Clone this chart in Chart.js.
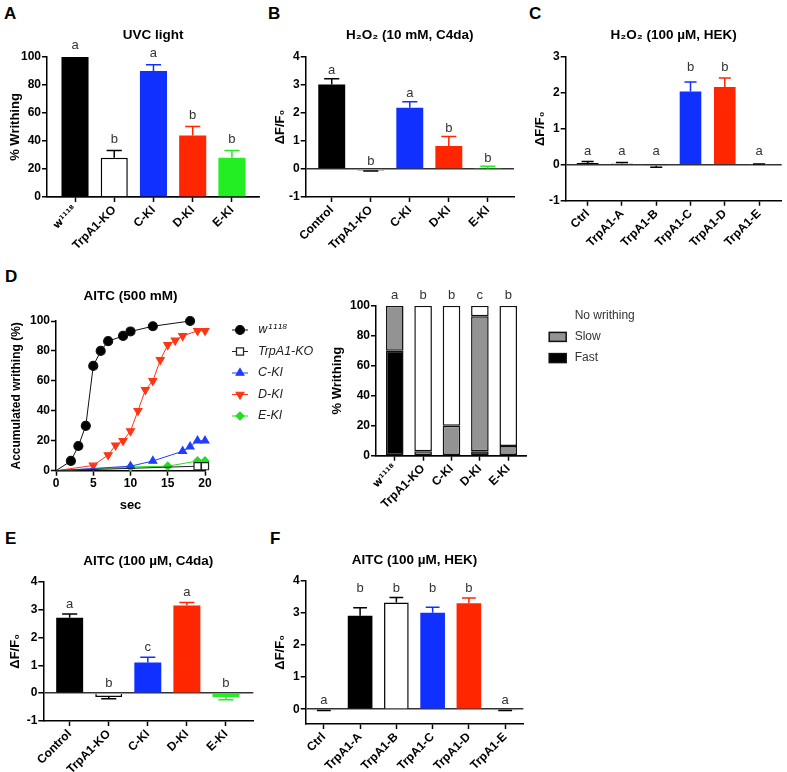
<!DOCTYPE html>
<html><head><meta charset="utf-8">
<script src="https://cdn.jsdelivr.net/npm/chart.js@4/dist/chart.umd.min.js"></script>
<style>
html,body{margin:0;padding:0;background:#fff;}
body{width:787px;height:772px;position:relative;overflow:hidden;font-family:'Liberation Sans',Arial,sans-serif;}
canvas{position:absolute;display:block;}
.lbl{position:absolute;font:bold 17px 'Liberation Sans',Arial,sans-serif;line-height:17px;color:#000;}
</style></head><body>
<div class="lbl" style="left:4px;top:5px">A</div>
<div class="lbl" style="left:268px;top:5px">B</div>
<div class="lbl" style="left:529px;top:5px">C</div>
<div class="lbl" style="left:5px;top:268px">D</div>
<div class="lbl" style="left:5px;top:530px">E</div>
<div class="lbl" style="left:270px;top:530px">F</div>
<canvas id="cA" width="265" height="265" style="left:0;top:0"></canvas>
<canvas id="cB" width="265" height="265" style="left:265px;top:0"></canvas>
<canvas id="cC" width="262" height="265" style="left:525px;top:0"></canvas>
<canvas id="cDl" width="325" height="258" style="left:0;top:262px"></canvas>
<canvas id="cDs" width="340" height="258" style="left:325px;top:262px"></canvas>
<canvas id="cE" width="265" height="252" style="left:0;top:520px"></canvas>
<canvas id="cF" width="265" height="252" style="left:265px;top:520px"></canvas>
<script>
// ---------- DATA ----------
// A: UVC light
const catsA = ['w\u00B9\u00B9\u00B9\u2078', 'TrpA1-KO', 'C-KI', 'D-KI', 'E-KI'];
const valsA = [100, 28, 90, 44, 28];
const errsA = [0, 5.3, 4.5, 6.4, 5.3];
const sigA = ['a', 'b', 'a', 'b', 'b'];
// B: H2O2 (10 mM, C4da)
const catsB = ['Control', 'TrpA1-KO', 'C-KI', 'D-KI', 'E-KI'];
const valsB = [3.02, -0.05, 2.19, 0.82, 0.02];
const errsB = [0.2, 0.02, 0.21, 0.34, 0.08];
const sigB = ['a', 'b', 'a', 'b', 'b'];
// C: H2O2 (100 uM, HEK)
const catsC = ['Ctrl', 'TrpA1-A', 'TrpA1-B', 'TrpA1-C', 'TrpA1-D', 'TrpA1-E'];
const valsC = [0.05, 0.03, -0.03, 2.03, 2.16, 0.01];
const errsC = [0.04, 0.03, 0.04, 0.27, 0.25, 0.01];
const sigC = ['a', 'a', 'a', 'b', 'b', 'a'];
// D (left): accumulated writhing vs time
const secW = [0, 2, 3, 4, 5, 6, 7, 9, 10, 13, 18];
const pctW = [0, 6.5, 16.5, 30, 70, 80, 86.5, 90, 93, 96.5, 100];
const secKO = [0, 19, 20];
const pctKO = [0, 3, 3];
const secCKI = [0, 10, 13, 17, 18, 19, 20];
const pctCKI = [0, 3, 6.5, 13, 16, 20, 20];
const secDKI = [0, 5, 7, 8, 9, 10, 11, 12, 13, 14, 15, 16, 17, 19, 20];
const pctDKI = [0, 3.5, 10.5, 17, 20, 26.5, 40, 54, 60, 74, 84, 87, 90, 93.5, 93.5];
const secEKI = [0, 10, 15, 19, 20];
const pctEKI = [0, 2.5, 3, 6.5, 6.5];
const seriesNamesD = ['w\u00B9\u00B9\u00B9\u2078', 'TrpA1-KO', 'C-KI', 'D-KI', 'E-KI'];
// D (right): stacked % writhing
const catsDs = ['w\u00B9\u00B9\u00B9\u2078', 'TrpA1-KO', 'C-KI', 'D-KI', 'E-KI'];
const fastDs = [70, 0, 0, 3, 0];
const slowDs = [30, 3, 20, 90, 6.5];
const noneDs = [0, 97, 80, 7, 93.5];
const sigDs = ['a', 'b', 'b', 'c', 'b'];
// E: AITC (100 uM, C4da)
const catsE = ['Control', 'TrpA1-KO', 'C-KI', 'D-KI', 'E-KI'];
const valsE = [2.71, -0.14, 1.1, 3.15, -0.14];
const errsE = [0.13, 0.06, 0.19, 0.1, 0.1];
const sigE = ['a', 'b', 'c', 'a', 'b'];
// F: AITC (100 uM, HEK)
const catsF = ['Ctrl', 'TrpA1-A', 'TrpA1-B', 'TrpA1-C', 'TrpA1-D', 'TrpA1-E'];
const valsF = [-0.03, 2.91, 3.32, 3.0, 3.3, -0.03];
const errsF = [0.01, 0.25, 0.16, 0.17, 0.16, 0.01];
const sigF = ['a', 'b', 'b', 'b', 'b', 'a'];

// ---------- STYLE ----------
const FONT = "'Liberation Sans', Arial, sans-serif";
const SUPFONT = "'DejaVu Sans', 'Liberation Sans', sans-serif";
const hasSup = s => /[\u00B9\u2070-\u209F]/.test(s || '');
Chart.defaults.font.family = FONT;
Chart.defaults.color = '#000';
const tickFont = {family: FONT, size: 12, weight: 'bold'};
const supTickFont = {family: SUPFONT, size: 10.5, weight: 'bold'};
const titleFont = {family: FONT, size: 13, weight: 'bold'};
const chartTitleFont = {family: FONT, size: 13.5, weight: 'bold'};
const BLACK = '#000000', WHITE = '#ffffff', BLUE = '#1030ff', RED = '#ff2600', GREEN = '#22ee22', GRAY = '#939393';

function errPlugin(vals, errs, colors) {
  return {
    id: 'errBars',
    afterDatasetsDraw(chart) {
      const ys = chart.scales.y, ctx = chart.ctx, bars = chart.getDatasetMeta(0).data;
      ctx.save();
      ctx.lineWidth = 1.5;
      bars.forEach((b, i) => {
        if (!errs[i]) return;
        const s = vals[i] < 0 ? -1 : 1;
        const y0 = ys.getPixelForValue(vals[i]);
        const y1 = ys.getPixelForValue(vals[i] + s * errs[i]);
        const half = b.width * 0.28;
        ctx.strokeStyle = colors[i];
        ctx.beginPath();
        ctx.moveTo(b.x, y0); ctx.lineTo(b.x, y1);
        ctx.moveTo(b.x - half, y1); ctx.lineTo(b.x + half, y1);
        ctx.stroke();
      });
      ctx.restore();
    }
  };
}

function letterPlugin(letters, topVals, gap, group) {
  return {
    id: 'sigLetters',
    afterDatasetsDraw(chart) {
      const ys = chart.scales.y, ctx = chart.ctx;
      const xs = chart.getDatasetMeta(0).data.map(b => b.x);
      const py = topVals.map(v => ys.getPixelForValue(v));
      ctx.save();
      ctx.font = '13px ' + FONT;
      ctx.fillStyle = '#333';
      ctx.textAlign = 'center';
      ctx.textBaseline = 'alphabetic';
      letters.forEach((L, i) => {
        let y = py[i];
        if (group) letters.forEach((M, j) => { if (M === L) y = Math.min(y, py[j]); });
        ctx.fillText(L, xs[i], y - gap);
      });
      ctx.restore();
    }
  };
}

function axisX(cats, min, max, h) {
  return {
    type: 'linear', min, max, offset: false,
    afterBuildTicks: s => { s.ticks = cats.map((c, i) => ({value: i})); },
    afterFit: s => { s.height = h; },
    ticks: {callback: v => cats[v], autoSkip: false, minRotation: 45, maxRotation: 45,
            font: c => (c.tick && hasSup(cats[c.tick.value])) ? supTickFont : tickFont, color: '#000', padding: 1},
    grid: {display: true, offset: false, drawOnChartArea: false, drawTicks: true, tickLength: 5, tickColor: '#000', tickWidth: 1.5},
    border: {display: true, color: '#000', width: 1.5}
  };
}

function axisY(min, max, step, w, title, titleCx) {
  return {
    min, max,
    afterBuildTicks: s => { s.ticks = s.ticks.filter(t => Math.abs(t.value / step - Math.round(t.value / step)) < 1e-6); },
    afterFit: s => { s.width = w; },
    ticks: {stepSize: step, font: tickFont, color: '#000', padding: 1},
    grid: {drawOnChartArea: true, color: c => (c.tick && c.tick.value === 0) ? '#333' : 'rgba(0,0,0,0)', lineWidth: 1.5,
           drawTicks: true, tickLength: 5, tickColor: '#000', tickWidth: 1.5},
    border: {display: true, color: '#000', width: 1.5},
    title: {display: true, text: title, font: titleFont, color: '#000', padding: {top: titleCx - 7.8, bottom: 0}}
  };
}

function titleOpt(text, centerY, areaTop) {
  const half = chartTitleFont.size * 0.6;
  return {display: true, text, fullSize: false, font: chartTitleFont, color: '#000',
          padding: {top: centerY - half, bottom: areaTop - centerY - half}};
}

function barPanel(id, o) {
  const el = document.getElementById(id);
  const W = el.width, H = el.height;
  const tops = o.vals.map((v, i) => v >= 0 ? v + o.errs[i] : 0);
  return new Chart(el, {
    type: 'bar',
    data: {datasets: [{
      data: o.vals.map((v, i) => ({x: i, y: v})),
      backgroundColor: o.fills, borderColor: o.lines,
      borderWidth: o.fills.map(f => f === WHITE ? 1.5 : 0),
      borderSkipped: 'start', categoryPercentage: 1, barPercentage: o.barPct
    }]},
    options: {
      responsive: false, animation: false, events: [],
      layout: {padding: {left: 0, top: 0, bottom: 0, right: W - o.area.right}},
      plugins: {legend: {display: false}, tooltip: {enabled: false}, title: titleOpt(o.title, o.titleY, o.area.top)},
      scales: {
        x: axisX(o.cats, o.xMin, o.xMax, H - o.area.bottom),
        y: axisY(o.yMin, o.yMax, o.step, o.area.left, o.yTitle, 15)
      }
    },
    plugins: [errPlugin(o.vals, o.errs, o.lines), letterPlugin(o.sig, tops, o.gap, o.group)]
  });
}

const dff = '\u0394F/F\u2080';

barPanel('cA', {cats: catsA, vals: valsA, errs: errsA, sig: sigA,
  fills: [BLACK, WHITE, BLUE, RED, GREEN], lines: [BLACK, BLACK, BLUE, RED, GREEN],
  title: 'UVC light', titleY: 35, yTitle: '% Writhing', yMin: 0, yMax: 100, step: 20,
  xMin: -0.714, xMax: 4.69, barPct: 0.69, area: {left: 47, right: 259, top: 57, bottom: 197}, gap: 7.7});

barPanel('cB', {cats: catsB, vals: valsB, errs: errsB, sig: sigB,
  fills: [BLACK, WHITE, BLUE, RED, GREEN], lines: [BLACK, BLACK, BLUE, RED, GREEN],
  title: 'H\u2082O\u2082 (10 mM, C4da)', titleY: 35, yTitle: dff, yMin: -1, yMax: 4, step: 1,
  xMin: -0.667, xMax: 4.67, barPct: 0.69, area: {left: 40.7, right: 249, top: 57, bottom: 197}, gap: 4.5});

barPanel('cC', {cats: catsC, vals: valsC, errs: errsC, sig: sigC,
  fills: [BLACK, WHITE, WHITE, BLUE, RED, WHITE], lines: [BLACK, BLACK, BLACK, BLUE, RED, BLACK],
  title: 'H\u2082O\u2082 (100 \u00B5M, HEK)', titleY: 35, yTitle: dff, yMin: -1, yMax: 3, step: 1,
  xMin: -0.64, xMax: 5.66, barPct: 0.63, area: {left: 40.7, right: 256.7, top: 56.7, bottom: 200.7}, gap: 6.5, group: true});

barPanel('cE', {cats: catsE, vals: valsE, errs: errsE, sig: sigE,
  fills: [BLACK, WHITE, BLUE, RED, GREEN], lines: [BLACK, BLACK, BLUE, RED, GREEN],
  title: 'AITC (100 \u00B5M, C4da)', titleY: 41.7, yTitle: dff, yMin: -1, yMax: 4, step: 1,
  xMin: -0.675, xMax: 4.7, barPct: 0.69, area: {left: 43.3, right: 253.3, top: 61.7, bottom: 201}, gap: 6.5});

barPanel('cF', {cats: catsF, vals: valsF, errs: errsF, sig: sigF,
  fills: [WHITE, BLACK, WHITE, BLUE, RED, WHITE], lines: [BLACK, BLACK, BLACK, BLUE, RED, BLACK],
  title: 'AITC (100 \u00B5M, HEK)', titleY: 40, yTitle: dff, yMin: -0.46, yMax: 4, step: 1,
  xMin: -0.5, xMax: 5.5, barPct: 0.68, area: {left: 40.7, right: 258.3, top: 60.7, bottom: 204}, gap: 5, group: true});

// ---------- D left: line chart ----------
const legendRadii = [4.5, 5, 4.5, 4.5, 4];
function lineDs(label, xs, ys, color, style, rot, r, fill) {
  return {
    label, data: xs.map((x, i) => ({x, y: ys[i]})),
    borderColor: color, backgroundColor: fill, borderWidth: 1, tension: 0,
    pointStyle: style, pointRotation: rot,
    pointRadius: c => c.dataIndex === 0 ? 0 : r,
    pointBackgroundColor: fill, pointBorderColor: color, pointBorderWidth: 1.2, clip: false
  };
}
const lineLegend = {
  id: 'lineLegend',
  afterDraw(chart) {
    const ctx = chart.ctx, a = chart.chartArea;
    const x0 = a.right + 35, y0 = a.top + 9, dy = 21.5;
    chart.data.datasets.forEach((ds, i) => {
      const y = y0 + i * dy;
      ctx.save();
      ctx.strokeStyle = ds.borderColor; ctx.lineWidth = 1;
      ctx.beginPath(); ctx.moveTo(x0 - 8, y); ctx.lineTo(x0 + 8, y); ctx.stroke();
      ctx.fillStyle = ds.pointBackgroundColor; ctx.strokeStyle = ds.pointBorderColor; ctx.lineWidth = 1.2;
      if (Chart.helpers && Chart.helpers.drawPoint) {
        Chart.helpers.drawPoint(ctx, {pointStyle: ds.pointStyle, rotation: ds.pointRotation || 0, radius: legendRadii[i], borderWidth: 1.2}, x0, y);
      } else {
        ctx.beginPath(); ctx.arc(x0, y, legendRadii[i], 0, Math.PI * 2); ctx.fill(); ctx.stroke();
      }
      ctx.fillStyle = '#222';
      ctx.font = hasSup(ds.label) ? 'italic 12px ' + SUPFONT : 'italic 12.5px ' + FONT;
      ctx.textBaseline = 'middle'; ctx.textAlign = 'left';
      ctx.fillText(ds.label, x0 + 18, y);
      ctx.restore();
    });
  }
};
(function () {
  const el = document.getElementById('cDl');
  new Chart(el, {
    type: 'line',
    data: {datasets: [
      lineDs(seriesNamesD[0], secW, pctW, '#111', 'circle', 0, 4.5, '#000'),
      lineDs(seriesNamesD[1], secKO, pctKO, '#222', 'rect', 0, 5, '#fff'),
      lineDs(seriesNamesD[2], secCKI, pctCKI, '#1f3fff', 'triangle', 0, 4.5, '#1f3fff'),
      lineDs(seriesNamesD[3], secDKI, pctDKI, '#ff3515', 'triangle', 180, 4.5, '#ff3515'),
      lineDs(seriesNamesD[4], secEKI, pctEKI, '#22dd22', 'rectRot', 0, 4, '#22dd22')
    ]},
    options: {
      responsive: false, animation: false, events: [],
      layout: {padding: {left: 0, top: 0, bottom: 0, right: el.width - 205}},
      plugins: {legend: {display: false}, tooltip: {enabled: false}, title: titleOpt('AITC (500 mM)', 34, 59)},
      scales: {
        x: {type: 'linear', min: 0, max: 20, afterFit: s => { s.height = 49.3; },
            ticks: {stepSize: 5, font: tickFont, color: '#000', maxRotation: 0, padding: 1},
            grid: {drawOnChartArea: false, tickLength: 5, tickColor: '#000', tickWidth: 1.5},
            border: {color: '#000', width: 1.5},
            title: {display: true, text: 'sec', font: titleFont, color: '#000', padding: {top: 0, bottom: 7.2}}},
        y: {min: 0, max: 100, afterFit: s => { s.width = 56; },
            ticks: {stepSize: 20, font: tickFont, color: '#000', padding: 1},
            grid: {drawOnChartArea: false, tickLength: 5, tickColor: '#000', tickWidth: 1.5},
            border: {color: '#000', width: 1.5},
            title: {display: true, text: 'Accumulated writhing (%)', font: {family: FONT, size: 12, weight: 'bold'}, color: '#000', padding: {top: 9.8, bottom: 0}}}
      }
    },
    plugins: [lineLegend]
  });
})();

// ---------- D right: stacked bars ----------
const stackLegend = {
  id: 'stackLegend',
  afterDraw(chart) {
    const ctx = chart.ctx, a = chart.chartArea;
    chart.data.datasets.slice().reverse().forEach((ds, i) => {
      const y = a.top + 10 + i * 21.2, bx = a.right + 22.5;
      ctx.save();
      ctx.fillStyle = ds.backgroundColor; ctx.fillRect(bx, y - 4.5, 17, 9);
      if (ds.backgroundColor !== WHITE) { ctx.strokeStyle = '#111'; ctx.lineWidth = 1.5; ctx.strokeRect(bx, y - 4.5, 17, 9); }
      ctx.fillStyle = '#333'; ctx.font = '12px ' + FONT; ctx.textBaseline = 'middle'; ctx.textAlign = 'left';
      ctx.fillText(ds.label, a.right + 48, y);
      ctx.restore();
    });
  }
};
(function () {
  const el = document.getElementById('cDs');
  const right = 201.7, top = 43.7, bottom = 193.7;
  const common = {borderColor: '#111', borderWidth: 1.5, borderSkipped: false, categoryPercentage: 1, barPercentage: 0.62};
  const tops = fastDs.map((v, i) => v + slowDs[i] + noneDs[i]);
  const xAx = axisX(catsDs, -0.66, 4.65, el.height - bottom);
  xAx.stacked = true;
  const yAx = axisY(0, 100, 20, 51, '% Writhing', 12);
  yAx.stacked = true;
  new Chart(el, {
    type: 'bar',
    data: {datasets: [
      Object.assign({label: 'Fast', data: fastDs.map((v, i) => ({x: i, y: v})), backgroundColor: BLACK}, common),
      Object.assign({label: 'Slow', data: slowDs.map((v, i) => ({x: i, y: v})), backgroundColor: GRAY}, common),
      Object.assign({label: 'No writhing', data: noneDs.map((v, i) => ({x: i, y: v})), backgroundColor: WHITE}, common)
    ]},
    options: {
      responsive: false, animation: false, events: [],
      layout: {padding: {left: 0, top: top, bottom: 0, right: el.width - right}},
      plugins: {legend: {display: false}, tooltip: {enabled: false}},
      scales: {x: xAx, y: yAx}
    },
    plugins: [letterPlugin(sigDs, tops, 7, false), stackLegend]
  });
})();
</script>
</body></html>
